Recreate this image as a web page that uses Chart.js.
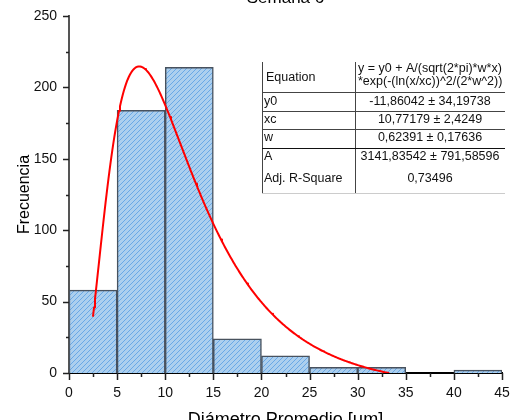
<!DOCTYPE html>
<html>
<head>
<meta charset="utf-8">
<script src="https://cdn.jsdelivr.net/npm/chart.js@4/dist/chart.umd.min.js"></script>
<style>
  html, body { margin: 0; padding: 0; background: #fff; }
  #wrap { width: 511px; height: 420px; }
</style>
</head>
<body>
<div id="wrap"><canvas id="hist" width="511" height="420"></canvas></div>
<script>
// histogram bins (diameter, µm) and counts
const binStarts = [0, 5, 10, 15, 20, 25, 30, 35, 40];
const binWidth = 5;
const counts = [58, 184, 214, 24, 12, 4, 4, 0, 2];

// log-normal fit parameters from the results table
const y0 = -11.86042;
const xc = 10.77179;
const w = 0.62391;
const A = 3141.83542;
const fitFrom = 2.5;
const fitTo = 33.2;

const xTicks = [0, 5, 10, 15, 20, 25, 30, 35, 40, 45];
const yTicks = [0, 50, 100, 150, 200, 250];

const tableRows = [
  ['y0', '-11,86042 ± 34,19738'],
  ['xc', '10,77179 ± 2,4249'],
  ['w', '0,62391 ± 0,17636'],
  ['A', '3141,83542 ± 791,58596'],
  ['Adj. R-Square', '0,73496']
];
const equationLines = ['y = y0 + A/(sqrt(2*pi)*w*x)', '*exp(-(ln(x/xc))^2/(2*w^2))'];

const FONT = '"Liberation Sans", Arial, sans-serif';

function lognormal(x) {
  const l = Math.log(x / xc);
  return y0 + A / (Math.sqrt(2 * Math.PI) * w * x) * Math.exp(-(l * l) / (2 * w * w));
}

const fitPoints = [];
for (let i = 0; fitFrom + i * 0.1 <= fitTo + 1e-9; i++) {
  const x = fitFrom + i * 0.1;
  fitPoints.push({ x: x, y: lognormal(x) });
}

// hatched blue fill for the bars
function hatch() {
  const c = document.createElement('canvas');
  c.width = 5; c.height = 5;
  const g = c.getContext('2d');
  g.fillStyle = 'rgb(172,207,238)';
  g.fillRect(0, 0, 5, 5);
  g.strokeStyle = 'rgb(105,168,230)';
  g.lineWidth = 1;
  g.beginPath();
  g.moveTo(-1, 6); g.lineTo(6, -1);
  g.moveTo(-1, 1); g.lineTo(1, -1);
  g.moveTo(4, 6); g.lineTo(6, 4);
  g.stroke();
  return g.createPattern(c, 'repeat');
}

const ctx = document.getElementById('hist').getContext('2d');

const extras = {
  id: 'extras',
  afterDraw(chart) {
    const c = chart.ctx;
    const xs = chart.scales.x, ys = chart.scales.y;
    c.save();

    // tick marks, major + minor
    c.strokeStyle = '#222';
    c.lineWidth = 1.5;
    c.beginPath();
    for (let v = 0; v <= 250; v += 25) {
      const py = Math.round(ys.getPixelForValue(v)) + 0.5;
      const len = v % 50 === 0 ? 6 : 3;
      c.moveTo(xs.left, py); c.lineTo(xs.left - len, py);
    }
    for (let v = 0; v <= 45; v += 2.5) {
      const px = Math.round(xs.getPixelForValue(v)) + 0.5;
      const len = v % 5 === 0 ? 7 : 4;
      c.moveTo(px, ys.bottom); c.lineTo(px, ys.bottom + len);
    }
    c.stroke();

    // titles
    c.fillStyle = '#000';
    c.textAlign = 'center';
    c.font = '17px ' + FONT;
    c.textBaseline = 'alphabetic';
    c.fillText('Semana 6', (xs.left + xs.right) / 2, 3);
    c.font = '18px ' + FONT;
    c.textBaseline = 'top';
    c.fillText('Diámetro Promedio [μm]', (xs.left + xs.right) / 2, 411);
    c.save();
    c.translate(25, (ys.top + ys.bottom) / 2);
    c.rotate(-Math.PI / 2);
    c.font = '16px ' + FONT;
    c.textBaseline = 'middle';
    c.fillText('Frecuencia', 0, 0);
    c.restore();

    // fit results table
    const tx = 262, tdiv = 355, tr = 505;
    c.fillStyle = '#fff';
    c.fillRect(tx, 62, tr - tx, 131);
    c.strokeStyle = '#444';
    c.lineWidth = 1;
    c.beginPath();
    c.moveTo(tx + 0.5, 62); c.lineTo(tx + 0.5, 193);
    c.moveTo(tdiv + 0.5, 62); c.lineTo(tdiv + 0.5, 193);
    [92, 111, 129].forEach(y => { c.moveTo(tx, y + 0.5); c.lineTo(tr, y + 0.5); });
    c.stroke();
    c.strokeStyle = '#111';
    c.beginPath();
    c.moveTo(tx, 148.5); c.lineTo(tr, 148.5);
    c.stroke();
    c.strokeStyle = '#ccc';
    c.beginPath();
    c.moveTo(tx, 193.5); c.lineTo(tr, 193.5);
    c.stroke();

    c.fillStyle = '#111';
    c.font = '12.5px ' + FONT;
    c.textBaseline = 'middle';
    c.textAlign = 'left';
    c.fillText('Equation', 266, 78);
    c.fillText(equationLines[0], 358, 69);
    c.fillText(equationLines[1], 358, 82);
    const rowY = [102, 120, 138, 157, 179];
    tableRows.forEach((r, i) => {
      c.textAlign = 'left';
      c.fillText(r[0], 264, rowY[i]);
      c.textAlign = 'center';
      c.fillText(r[1], (tdiv + tr) / 2, rowY[i]);
    });
    c.restore();
  }
};

new Chart(ctx, {
  type: 'bar',
  data: {
    datasets: [
      {
        type: 'line',
        label: 'Fit',
        data: fitPoints,
        borderColor: 'rgb(255,0,0)',
        borderWidth: 2,
        borderJoinStyle: 'round',
        borderCapStyle: 'round',
        pointRadius: 0,
        tension: 0,
        fill: false,
        order: 0
      },
      {
        label: 'Frecuencia',
        data: binStarts.map((b, i) => ({ x: b + binWidth / 2, y: counts[i] })),
        backgroundColor: hatch(),
        borderColor: 'rgb(72,82,94)',
        borderWidth: 1.5,
        borderSkipped: 'bottom',
        barPercentage: 1,
        categoryPercentage: 1,
        order: 1
      }
    ]
  },
  options: {
    responsive: false,
    animation: false,
    layout: { padding: { left: 0, right: 9, top: 16, bottom: 0 } },
    plugins: { legend: { display: false }, tooltip: { enabled: false } },
    scales: {
      x: {
        type: 'linear',
        offset: false,
        min: 0,
        max: 45,
        afterFit(s) { s.height = 47; s.paddingLeft = 0; s.paddingRight = 0; },
        afterBuildTicks(s) { s.ticks = xTicks.map(v => ({ value: v })); },
        grid: { display: false, drawTicks: false, offset: false },
        border: { display: true, color: '#000', width: 2 },
        ticks: { padding: 12, color: '#111', font: { family: FONT, size: 14 } }
      },
      y: {
        min: 0,
        max: 250,
        afterFit(s) { s.width = 69; s.paddingTop = 0; s.paddingBottom = 0; },
        afterBuildTicks(s) { s.ticks = yTicks.map(v => ({ value: v })); },
        grid: { display: false, drawTicks: false },
        border: { display: true, color: '#555', width: 2 },
        ticks: { padding: 12, color: '#111', font: { family: FONT, size: 14 } }
      }
    }
  },
  plugins: [extras]
});
</script>
</body>
</html>
